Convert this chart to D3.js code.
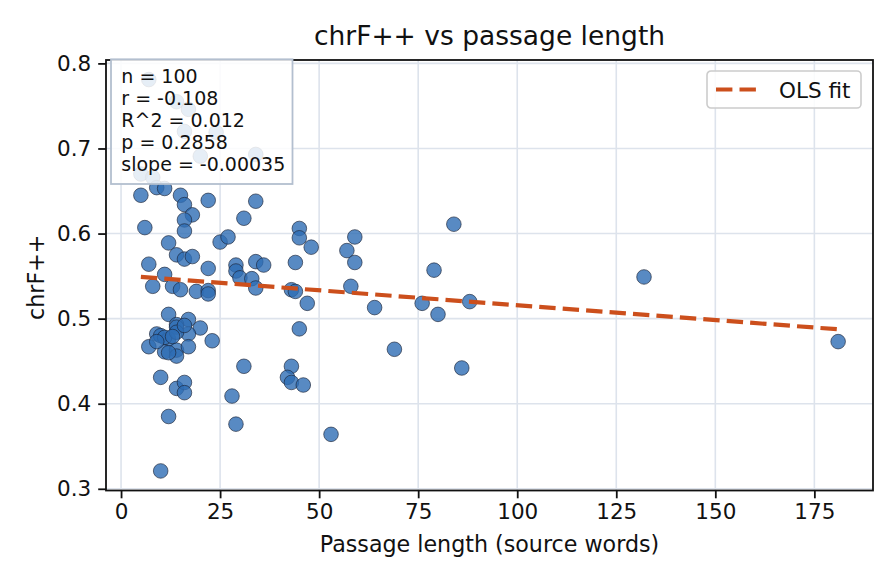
<!DOCTYPE html>
<html>
<head>
<meta charset="utf-8">
<script src="https://cdn.jsdelivr.net/npm/d3@7"></script>
<style>
  html, body { margin: 0; padding: 0; background: #fff; }
  svg text { font-family: "DejaVu Sans", sans-serif; fill: #111; }
</style>
</head>
<body>
<div id="chart"></div>
<script>
// passage length (source words) and chrF++ per passage
const passageLength = [
    7, 14, 17, 16, 24, 20, 34, 5, 8, 5,
    9, 11, 15, 16, 22, 34, 18, 16, 31, 6,
    16, 45, 45, 25, 27, 12, 48, 59, 57, 59,
    84, 14, 16, 18, 7, 22, 29, 29, 34, 36,
    44, 79, 132, 11, 30, 33, 34, 8, 13, 15,
    19, 22, 43, 44, 58, 47, 64, 76, 80, 88,
    45, 12, 17, 20, 14, 14, 9, 10, 12, 11,
    17, 7, 11, 14, 17, 14, 23, 14, 10, 14,
    16, 16, 31, 28, 29, 43, 42, 43, 46, 12,
    10, 53, 69, 86, 181, 22, 13, 16, 12, 9
];
const chrf = [
    0.781, 0.755, 0.746, 0.720, 0.719, 0.691, 0.693, 0.670, 0.666, 0.645,
    0.654, 0.653, 0.645, 0.634, 0.639, 0.638, 0.622, 0.616, 0.618, 0.607,
    0.603, 0.606, 0.595, 0.590, 0.596, 0.589, 0.584, 0.596, 0.580, 0.566,
    0.611, 0.575, 0.570, 0.573, 0.564, 0.559, 0.563, 0.556, 0.567, 0.563,
    0.566, 0.557, 0.549, 0.552, 0.548, 0.547, 0.536, 0.538, 0.538, 0.534,
    0.532, 0.533, 0.534, 0.532, 0.538, 0.518, 0.513, 0.518, 0.505, 0.520,
    0.488, 0.505, 0.499, 0.489, 0.493, 0.490, 0.482, 0.480, 0.476, 0.478,
    0.482, 0.467, 0.461, 0.463, 0.467, 0.456, 0.474, 0.484, 0.431, 0.418,
    0.425, 0.413, 0.444, 0.409, 0.376, 0.444, 0.431, 0.425, 0.422, 0.385,
    0.321, 0.364, 0.464, 0.442, 0.473, 0.529, 0.479, 0.492, 0.460, 0.473
];

// OLS fit shown as dashed line
const fitIntercept = 0.5508;
const fitSlope = -0.00035;

const statLines = ["n = 100", "r = -0.108", "R^2 = 0.012", "p = 0.2858", "slope = -0.00035"];
const xTicks = [0, 25, 50, 75, 100, 125, 150, 175];
const yTicks = [0.3, 0.4, 0.5, 0.6, 0.7, 0.8];

const width = 896, height = 584;
const margin = { top: 60, right: 23, bottom: 93.5, left: 106 };
const innerW = width - margin.left - margin.right;
const innerH = height - margin.top - margin.bottom;

const fitColor = "#cc4f1c";
const dash = "16.4,7.1";

const svg = d3.select("#chart").append("svg")
    .attr("width", width)
    .attr("height", height);

const xExtent = d3.extent(passageLength);
const yExtent = d3.extent(chrf);
const xPad = (xExtent[1] - xExtent[0]) * 0.05;
const yPad = (yExtent[1] - yExtent[0]) * 0.05;

const x = d3.scaleLinear()
    .domain([xExtent[0] - xPad, xExtent[1] + xPad])
    .range([0, innerW]);
const y = d3.scaleLinear()
    .domain([yExtent[0] - yPad, yExtent[1] + yPad])
    .range([innerH, 0]);

const g = svg.append("g")
    .attr("transform", `translate(${margin.left}, ${margin.top})`);

// grid
g.append("g").selectAll("line")
    .data(xTicks)
    .join("line")
    .attr("x1", d => x(d)).attr("x2", d => x(d))
    .attr("y1", 0).attr("y2", innerH)
    .attr("stroke", "#dde3ec").attr("stroke-width", 1.6);
g.append("g").selectAll("line")
    .data(yTicks)
    .join("line")
    .attr("y1", d => y(d)).attr("y2", d => y(d))
    .attr("x1", 0).attr("x2", innerW)
    .attr("stroke", "#dde3ec").attr("stroke-width", 1.6);

// points
const pts = passageLength.map((d, i) => ({ len: d, score: chrf[i] }));
g.append("g").selectAll("circle")
    .data(pts)
    .join("circle")
    .attr("cx", d => x(d.len))
    .attr("cy", d => y(d.score))
    .attr("r", 7.3)
    .attr("fill", "#2e6db4")
    .attr("fill-opacity", 0.8)
    .attr("stroke", "#1b2235")
    .attr("stroke-opacity", 0.8)
    .attr("stroke-width", 0.8);

// fit line
const fitX = [xExtent[0], xExtent[1]];
g.append("line")
    .attr("x1", x(fitX[0])).attr("y1", y(fitIntercept + fitSlope * fitX[0]))
    .attr("x2", x(fitX[1])).attr("y2", y(fitIntercept + fitSlope * fitX[1]))
    .attr("stroke", fitColor)
    .attr("stroke-width", 4.2)
    .attr("stroke-dasharray", dash);

// axes
const xAxis = d3.axisBottom(x).tickValues(xTicks).tickSize(7.8).tickPadding(5.5).tickSizeOuter(0);
const yAxis = d3.axisLeft(y).tickValues(yTicks).tickSize(7.8).tickPadding(7).tickSizeOuter(0)
    .tickFormat(d3.format(".1f"));

const gx = g.append("g")
    .attr("transform", `translate(0, ${innerH})`)
    .call(xAxis);
const gy = g.append("g").call(yAxis);
[gx, gy].forEach(a => {
    a.select(".domain").remove();
    a.selectAll(".tick line").attr("stroke", "#111").attr("stroke-width", 1.8);
    a.selectAll(".tick text").style("font-size", "21.5px").attr("fill", "#111");
});

// spines
g.append("rect")
    .attr("width", innerW).attr("height", innerH)
    .attr("fill", "none")
    .attr("stroke", "#111")
    .attr("stroke-width", 1.8);

// stats box
const box = g.append("g").attr("transform", "translate(5, -0.7)");
box.append("rect")
    .attr("width", 181.5).attr("height", 124.7)
    .attr("fill", "#fff").attr("fill-opacity", 0.85)
    .attr("stroke", "#b3bfcf").attr("stroke-width", 1.8);
box.selectAll("text")
    .data(statLines)
    .join("text")
    .attr("x", 10.3)
    .attr("y", (d, i) => 23.4 + i * 22)
    .style("font-size", "19px")
    .text(d => d);

// legend
const leg = g.append("g").attr("transform", `translate(${innerW - 166}, 11)`);
leg.append("rect")
    .attr("width", 154).attr("height", 37)
    .attr("rx", 4)
    .attr("fill", "#fff").attr("fill-opacity", 0.85)
    .attr("stroke", "#cccccc").attr("stroke-width", 1.6);
leg.append("line")
    .attr("x1", 9).attr("x2", 53)
    .attr("y1", 18.5).attr("y2", 18.5)
    .attr("stroke", fitColor)
    .attr("stroke-width", 4.2)
    .attr("stroke-dasharray", dash);
leg.append("text")
    .attr("x", 72).attr("y", 26.5)
    .style("font-size", "21.5px")
    .text("OLS fit");

// title and axis labels
svg.append("text")
    .attr("x", margin.left + innerW / 2)
    .attr("y", 45)
    .attr("text-anchor", "middle")
    .style("font-size", "26.5px")
    .text("chrF++ vs passage length");
svg.append("text")
    .attr("x", margin.left + innerW / 2)
    .attr("y", 552)
    .attr("text-anchor", "middle")
    .style("font-size", "22.2px")
    .text("Passage length (source words)");
svg.append("text")
    .attr("transform", `translate(44, ${margin.top + innerH / 2 + 2}) rotate(-90)`)
    .attr("text-anchor", "middle")
    .style("font-size", "22.2px")
    .text("chrF++");
</script>
</body>
</html>
